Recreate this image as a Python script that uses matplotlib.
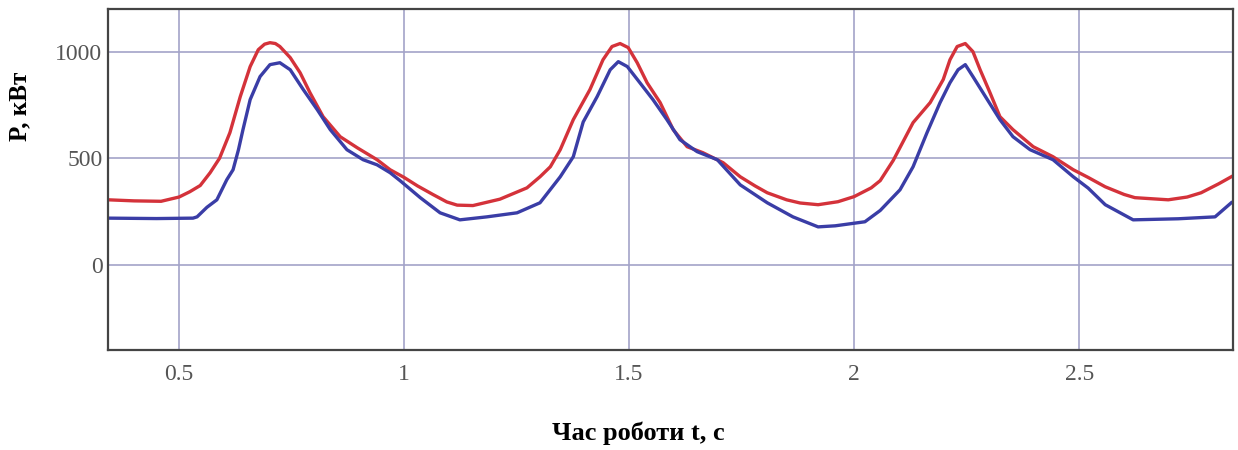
import matplotlib.pyplot as plt

# --- Data (time in s, power in kW) ---
t_red = [0.342, 0.40, 0.46, 0.50, 0.524, 0.547, 0.569, 0.59, 0.613, 0.636, 0.658,
         0.676, 0.690, 0.702, 0.714, 0.724, 0.747, 0.769, 0.791, 0.82, 0.858, 0.896,
         0.94, 0.969, 1.0, 1.03, 1.064, 1.095, 1.118, 1.153, 1.213, 1.273, 1.302,
         1.325, 1.347, 1.376, 1.413, 1.442, 1.462, 1.48, 1.498, 1.518, 1.54, 1.569,
         1.598, 1.629, 1.664, 1.709, 1.747, 1.78, 1.807, 1.85, 1.88, 1.92, 1.964,
         2.0, 2.038, 2.058, 2.087, 2.131, 2.169, 2.198, 2.213, 2.229, 2.247, 2.264,
         2.28, 2.302, 2.324, 2.353, 2.398, 2.442, 2.487, 2.52, 2.558, 2.6, 2.624,
         2.698, 2.74, 2.771, 2.81, 2.838]
p_red = [305, 300, 298, 318, 343, 372, 432, 500, 620, 789, 930,
         1009, 1035, 1042, 1038, 1024, 972, 901, 807, 695, 601, 549,
         493, 446, 410, 370, 330, 295, 280, 278, 308, 361, 413,
         460, 540, 681, 822, 962, 1024, 1038, 1019, 948, 854, 761,
         634, 554, 526, 479, 413, 370, 338, 305, 290, 282, 296,
         320, 361, 395, 490, 667, 761, 869, 962, 1024, 1038, 1000,
         915, 807, 695, 634, 554, 507, 446, 410, 366, 330, 315,
         305, 318, 338, 380, 413]

t_blue = [0.342, 0.45, 0.531, 0.54, 0.562, 0.584, 0.606, 0.62, 0.632, 0.642, 0.658,
          0.68, 0.702, 0.724, 0.747, 0.776, 0.807, 0.836, 0.873, 0.909, 0.94, 0.969,
          0.991, 1.036, 1.08, 1.124, 1.184, 1.251, 1.302, 1.347, 1.376, 1.398, 1.429,
          1.458, 1.476, 1.496, 1.524, 1.553, 1.584, 1.613, 1.651, 1.696, 1.747, 1.807,
          1.864, 1.92, 1.958, 2.024, 2.058, 2.102, 2.131, 2.162, 2.191, 2.213, 2.231,
          2.247, 2.264, 2.296, 2.324, 2.353, 2.391, 2.442, 2.487, 2.52, 2.558, 2.62,
          2.72, 2.802, 2.838]
p_blue = [219, 217, 219, 225, 270, 305, 399, 446, 540, 634, 775,
          883, 939, 948, 915, 822, 728, 634, 540, 493, 469, 432,
          395, 315, 244, 211, 225, 244, 291, 413, 507, 670, 789,
          915, 953, 930, 854, 775, 681, 587, 531, 493, 375, 291,
          225, 178, 183, 202, 255, 352, 460, 620, 761, 854, 915,
          939, 883, 775, 681, 601, 540, 493, 413, 360, 282, 211,
          216, 225, 291]

x_ticks = [0.5, 1, 1.5, 2, 2.5]
y_ticks = [0, 500, 1000]

fig = plt.figure(figsize=(12.38, 4.5), dpi=100)
ax = fig.add_axes([0.0872, 0.222, 0.9088, 0.758])

ax.plot(t_red, p_red, color='#d4323a', linewidth=2.4)
ax.plot(t_blue, p_blue, color='#3a3da6', linewidth=2.4)

ax.set_xlim(0.342, 2.842)
ax.set_ylim(-400, 1200)
ax.set_xticks(x_ticks)
ax.set_xticklabels(['0.5', '1', '1.5', '2', '2.5'])
ax.set_yticks(y_ticks)
ax.grid(True, color='#a3a3c8', linewidth=1.2)
ax.set_axisbelow(True)
ax.tick_params(length=0, labelsize=17, labelcolor='#555555')
ax.tick_params(axis='x', pad=10)
ax.tick_params(axis='y', pad=4)
for lab in ax.get_xticklabels() + ax.get_yticklabels():
    lab.set_family('Liberation Serif')
for s in ax.spines.values():
    s.set_color('#444444')
    s.set_linewidth(1.6)

fig.text(20 / 1238, 1 - 106 / 450, 'P, кВт', rotation=90, ha='center', va='center',
         family='Liberation Serif', weight='bold', fontsize=18)
fig.text(638 / 1238, 1 - 433 / 450, 'Час роботи t, с', ha='center', va='center',
         family='Liberation Serif', weight='bold', fontsize=19)

fig.savefig('out.png', dpi=100)
